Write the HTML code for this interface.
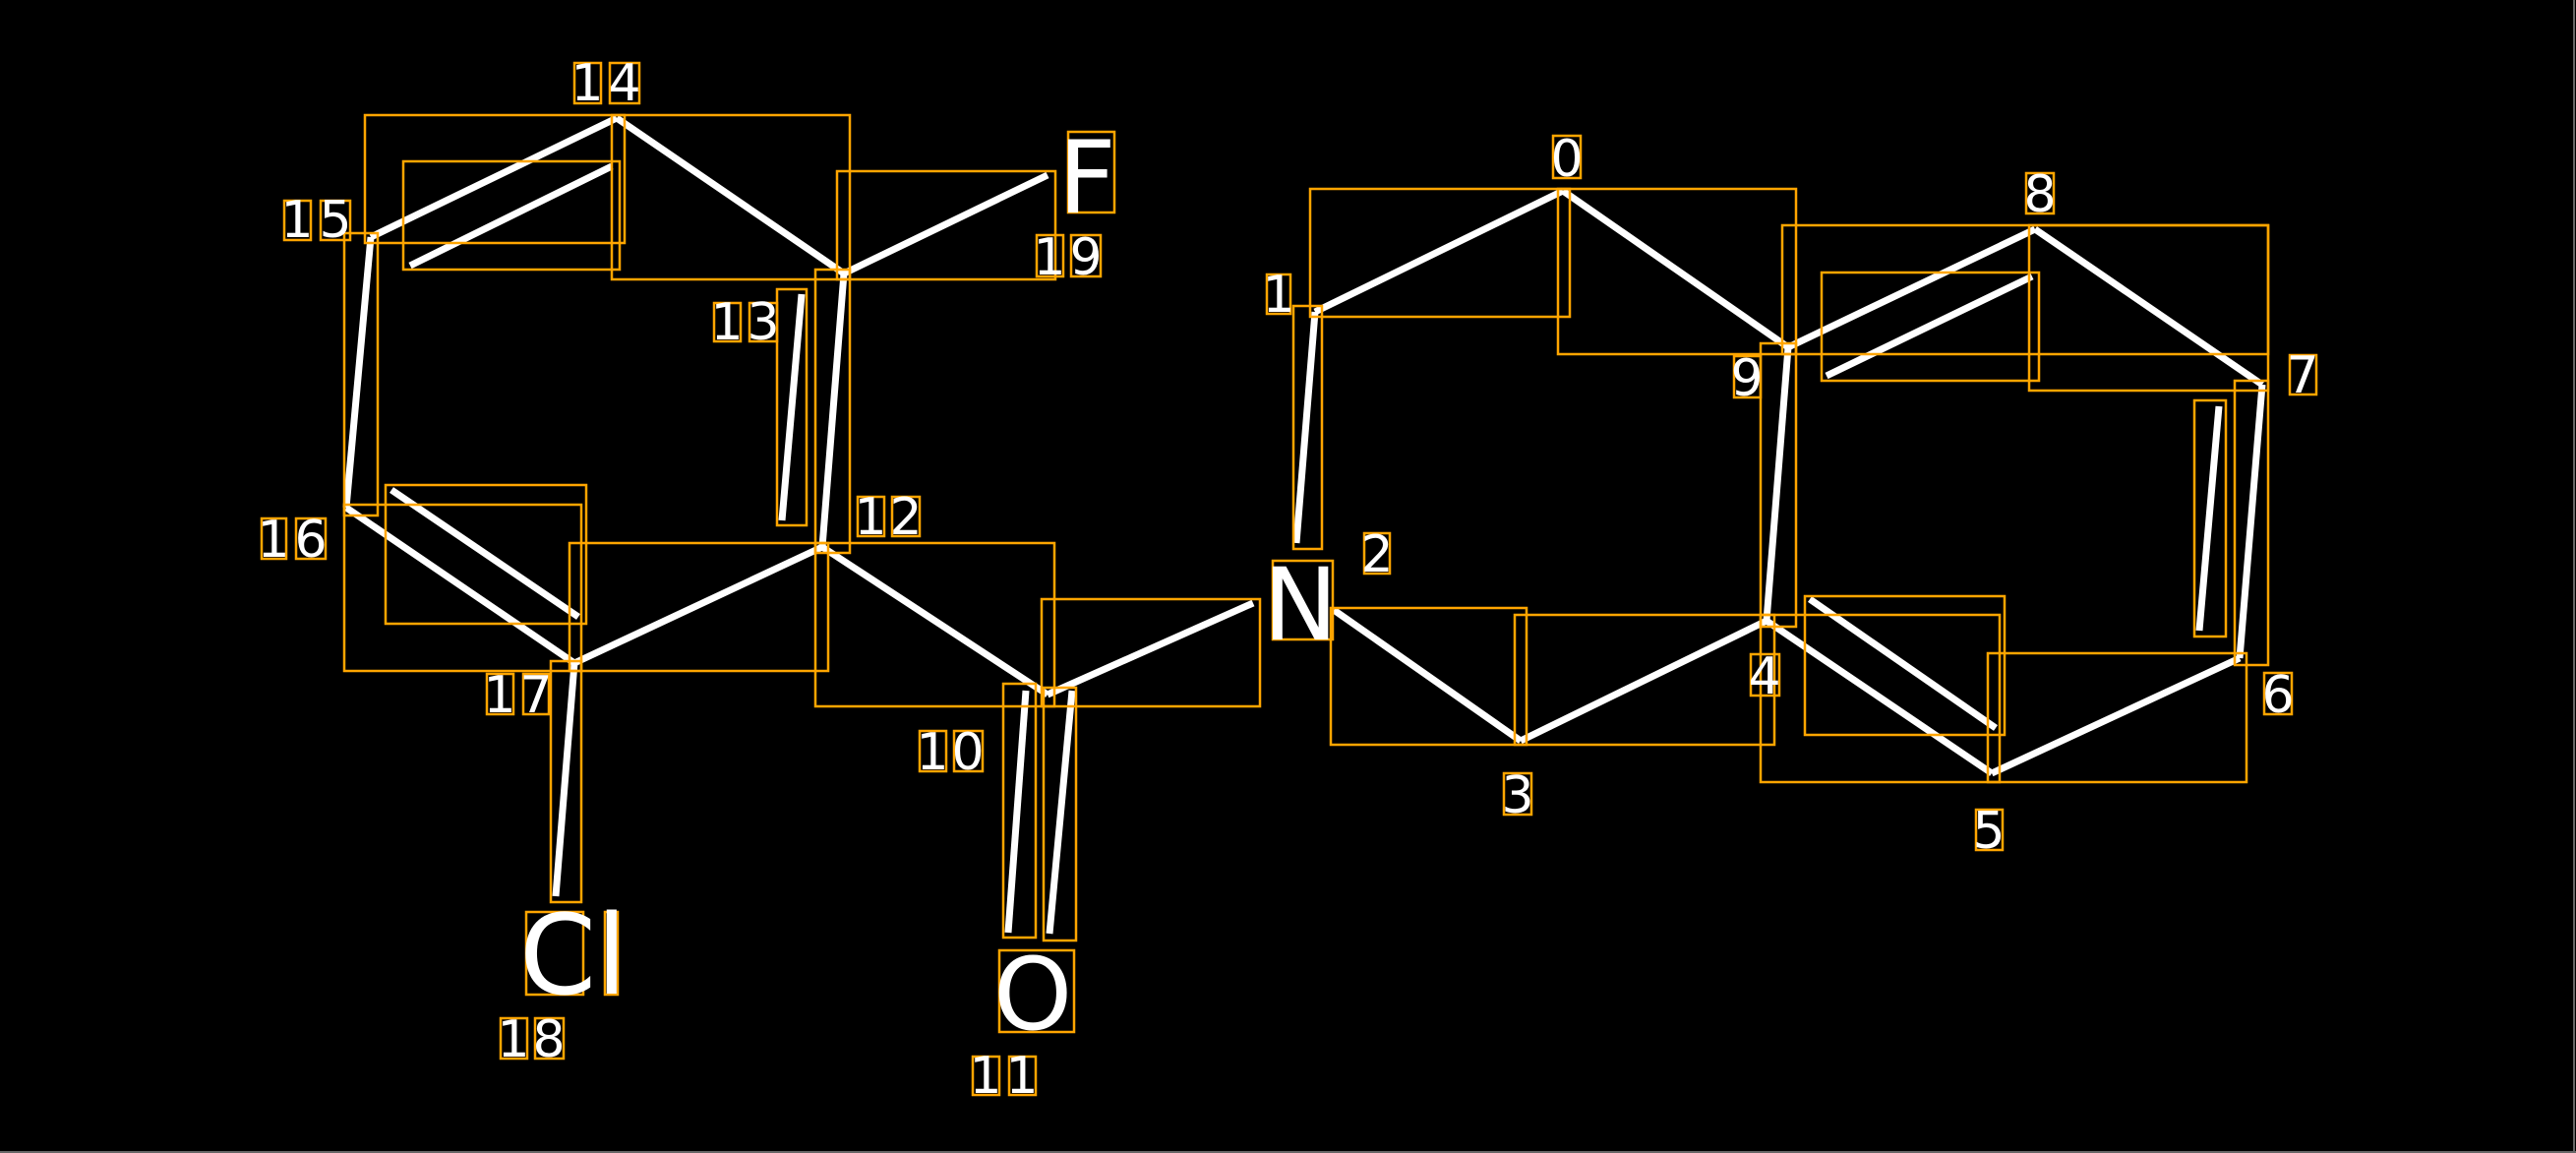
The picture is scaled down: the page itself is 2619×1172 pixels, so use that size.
<!DOCTYPE html>
<html><head><meta charset="utf-8"><style>
html,body{margin:0;padding:0;background:#000;}
svg{display:block;}
text{font-family:"DejaVu Sans","Liberation Sans",sans-serif;fill:#fff;}
</style></head><body>
<svg width="2619" height="1172" viewBox="0 0 2619 1172" xmlns="http://www.w3.org/2000/svg">
<rect width="2619" height="1172" fill="#000"/>
<line x1="2617" y1="0" x2="2617" y2="1172" stroke="#666" stroke-width="2"/>
<line x1="0" y1="1171" x2="2619" y2="1171" stroke="#666" stroke-width="2"/>
<g stroke="#fff" stroke-width="7" stroke-linecap="butt">
<line x1="627" y1="120" x2="377" y2="241"/>
<line x1="622" y1="169" x2="417" y2="270"/>
<line x1="627" y1="120" x2="858" y2="278"/>
<line x1="858" y1="278" x2="1065" y2="178"/>
<line x1="858" y1="278" x2="836" y2="556"/>
<line x1="815" y1="299" x2="795" y2="529"/>
<line x1="836" y1="556" x2="584" y2="674"/>
<line x1="584" y1="674" x2="352" y2="516"/>
<line x1="398" y1="498" x2="588" y2="627"/>
<line x1="352" y1="516" x2="377" y2="241"/>
<line x1="836" y1="556" x2="1065" y2="706"/>
<line x1="1065" y1="706" x2="1274" y2="613"/>
<line x1="584" y1="674" x2="565" y2="911"/>
<line x1="1043" y1="702" x2="1025" y2="948"/>
<line x1="1090" y1="702" x2="1067" y2="949"/>
<line x1="1356" y1="620" x2="1546" y2="753"/>
<line x1="1546" y1="753" x2="1796" y2="631"/>
<line x1="1796" y1="631" x2="1818" y2="353"/>
<line x1="1818" y1="353" x2="1589" y2="194"/>
<line x1="1589" y1="194" x2="1337" y2="317"/>
<line x1="1337" y1="317" x2="1318" y2="552"/>
<line x1="1818" y1="353" x2="2069" y2="233"/>
<line x1="1857" y1="382" x2="2066" y2="281"/>
<line x1="2069" y1="233" x2="2300" y2="391"/>
<line x1="2300" y1="391" x2="2277" y2="669"/>
<line x1="2256" y1="413" x2="2236" y2="641"/>
<line x1="2277" y1="669" x2="2025" y2="786"/>
<line x1="2025" y1="786" x2="1796" y2="631"/>
<line x1="1840" y1="609" x2="2029" y2="740"/>
</g>
<g fill="none" stroke="#ffa500" stroke-width="2.5">
<rect x="371" y="117" width="264" height="130"/>
<rect x="410" y="164" width="220" height="110"/>
<rect x="622" y="117" width="242" height="167"/>
<rect x="851" y="174" width="222" height="110"/>
<rect x="829" y="274" width="35" height="288"/>
<rect x="790" y="294" width="30" height="240"/>
<rect x="350" y="237" width="34" height="287"/>
<rect x="392" y="493" width="204" height="141"/>
<rect x="350" y="513" width="241" height="169"/>
<rect x="579" y="552" width="263" height="130"/>
<rect x="829" y="552" width="243" height="166"/>
<rect x="1059" y="609" width="222" height="109"/>
<rect x="560" y="672" width="31" height="245"/>
<rect x="1020" y="695" width="33" height="258"/>
<rect x="1061" y="699" width="33" height="257"/>
<rect x="1332" y="192" width="264" height="130"/>
<rect x="1584" y="192" width="242" height="168"/>
<rect x="1315" y="311" width="29" height="247"/>
<rect x="1812" y="229" width="494" height="131"/>
<rect x="1852" y="277" width="221" height="110"/>
<rect x="2063" y="229" width="243" height="168"/>
<rect x="1790" y="349" width="36" height="288"/>
<rect x="2231" y="407" width="32" height="240"/>
<rect x="2272" y="387" width="34" height="289"/>
<rect x="1353" y="618" width="199" height="139"/>
<rect x="1540" y="625" width="264" height="132"/>
<rect x="1835" y="606" width="203" height="141"/>
<rect x="1790" y="625" width="243" height="170"/>
<rect x="2021" y="664" width="263" height="131"/>
<rect x="1086" y="134" width="47" height="82"/>
<rect x="535" y="927" width="58" height="84"/>
<rect x="615" y="927" width="13" height="84"/>
<rect x="1016" y="966" width="76" height="83"/>
<rect x="1294" y="570" width="61" height="80"/>
<rect x="584" y="64" width="27" height="41"/><rect x="620" y="64" width="30" height="41"/>
<rect x="289" y="204" width="27" height="40"/><rect x="326" y="204" width="30" height="40"/>
<rect x="266" y="527" width="25" height="41"/><rect x="301" y="527" width="30" height="41"/>
<rect x="726" y="308" width="27" height="39"/><rect x="762" y="308" width="28" height="39"/>
<rect x="872" y="505" width="27" height="40"/><rect x="907" y="505" width="28" height="40"/>
<rect x="495" y="685" width="27" height="41"/><rect x="532" y="685" width="26" height="41"/>
<rect x="935" y="743" width="27" height="41"/><rect x="970" y="743" width="29" height="41"/>
<rect x="509" y="1035" width="27" height="41"/><rect x="544" y="1035" width="29" height="41"/>
<rect x="989" y="1074" width="27" height="39"/><rect x="1026" y="1074" width="27" height="39"/>
<rect x="1054" y="239" width="27" height="42"/><rect x="1089" y="239" width="30" height="42"/>
<rect x="1579" y="138" width="28" height="43"/>
<rect x="1288" y="279" width="24" height="40"/>
<rect x="1387" y="542" width="26" height="41"/>
<rect x="1529" y="786" width="28" height="42"/>
<rect x="1780" y="665" width="29" height="42"/>
<rect x="2009" y="823" width="27" height="41"/>
<rect x="2302" y="684" width="28" height="42"/>
<rect x="2328" y="361" width="27" height="40"/>
<rect x="2060" y="176" width="28" height="41"/>
<rect x="1763" y="362" width="27" height="42"/>
</g>
<g font-size="102">
<text x="1076" y="216">F</text>
<text x="1010" y="1046">O</text>
<text x="1284" y="650">N</text>
</g>
<text x="528" y="1010" font-size="112">Cl</text>
<g font-size="52" text-anchor="middle">
<text x="597" y="102">1</text><text x="635" y="102">4</text>
<text x="302" y="241">1</text><text x="341" y="241">5</text>
<text x="278" y="566">1</text><text x="316" y="566">6</text>
<text x="739" y="345">1</text><text x="776" y="345">3</text>
<text x="885" y="543">1</text><text x="921" y="543">2</text>
<text x="508" y="724">1</text><text x="545" y="724">7</text>
<text x="948" y="782">1</text><text x="984" y="782">0</text>
<text x="522" y="1074">1</text><text x="558" y="1074">8</text>
<text x="1002" y="1111">1</text><text x="1039" y="1111">1</text>
<text x="1067" y="279">1</text><text x="1104" y="279">9</text>
<text x="1593" y="179">0</text>
<text x="1300" y="317">1</text>
<text x="1400" y="581">2</text>
<text x="1543" y="826">3</text>
<text x="1794" y="705">4</text>
<text x="2022" y="862">5</text>
<text x="2316" y="724">6</text>
<text x="2341" y="399">7</text>
<text x="2074" y="215">8</text>
<text x="1776" y="402">9</text>
</g>
</svg>
</body></html>
